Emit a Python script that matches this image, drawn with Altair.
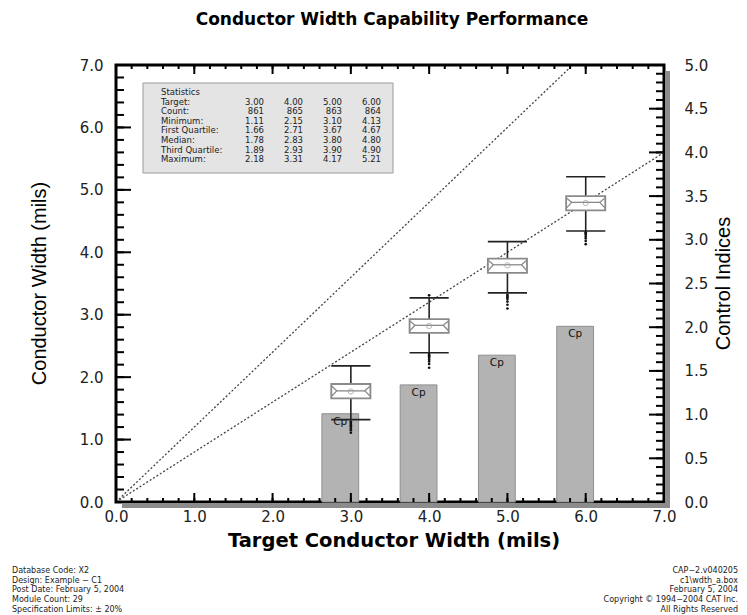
import altair as alt
import pandas as pd

# ---- measurements per target width ----
targets = [3.0, 4.0, 5.0, 6.0]
counts = [861, 865, 863, 864]
minimums = [1.11, 2.15, 3.10, 4.13]
first_quartiles = [1.66, 2.71, 3.67, 4.67]
medians = [1.78, 2.83, 3.80, 4.80]
third_quartiles = [1.89, 2.93, 3.90, 4.90]
maximums = [2.18, 3.31, 4.17, 5.21]
lower_whiskers = [1.32, 2.39, 3.35, 4.34]
upper_whiskers = [2.18, 3.27, 4.17, 5.21]
means = [1.77, 2.82, 3.79, 4.79]
outliers = [
    [1.11, 1.15, 1.18, 1.21, 1.23, 1.25, 1.27, 1.29],
    [2.15, 2.21, 2.25, 2.28, 2.31, 2.33, 2.35, 2.37, 3.31],
    [3.10, 3.16, 3.21, 3.25, 3.28, 3.30, 3.32],
    [4.13, 4.18, 4.22, 4.25, 4.28, 4.30, 4.32],
]
cp_values = [1.01, 1.34, 1.68, 2.01]
spec_limit = 0.20

x_major = [0, 1, 2, 3, 4, 5, 6, 7]
y_major = [0, 1, 2, 3, 4, 5, 6, 7]
right_major = [0.0, 0.5, 1.0, 1.5, 2.0, 2.5, 3.0, 3.5, 4.0, 4.5, 5.0]

stat_labels = ["Target:", "Count:", "Minimum:", "First Quartile:", "Median:",
               "Third Quartile:", "Maximum:"]

footer_left = ["Database Code: X2", "Design: Example \u2212 C1",
               "Post Date: February  5, 2004", "Module Count: 29",
               "Specification Limits: \u00b1 20%"]
footer_right = ["CAP\u22122.v040205", "c1\\wdth_a.box", "February 5, 2004",
                "Copyright \u00a9 1994\u22122004 CAT Inc.", "All Rights Reserved"]

# ---- layout ----
W, H = 548, 437
HFONT = "DejaVu Sans"
VFONT = "Liberation Sans"
BOX_HALF = 0.25

xs = alt.Scale(domain=[0, 7], nice=False, zero=False)
ys = alt.Scale(domain=[0, 7], nice=False, zero=False)
yr = alt.Scale(domain=[0, 5], nice=False, zero=False)

x_axis = alt.Axis(values=x_major, format=".1f", ticks=False, domain=False,
                  grid=False, labelPadding=7, labelFont=HFONT, labelFontSize=15,
                  labelColor="#222", labelFlush=False, labelOverlap=False, title=None)
left_axis = alt.Axis(orient="left", values=y_major, format=".1f", ticks=False,
                     domain=False, grid=False, labelPadding=13, labelFont=HFONT,
                     labelFontSize=15, labelColor="#222", labelFlush=False, title=None)
right_axis = alt.Axis(orient="right", values=right_major, format=".1f", ticks=False,
                      domain=False, grid=False, labelPadding=20, labelFont=HFONT,
                      labelFontSize=15, labelColor="#222", labelFlush=False, title=None)


def X(field):
    return alt.X(field, type="quantitative", scale=xs, axis=x_axis)


def YL(field):
    return alt.Y(field, type="quantitative", scale=ys, axis=None)


one = pd.DataFrame({"k": [1]})

# ---- tables ----
box = pd.DataFrame({
    "t": targets, "q1": first_quartiles, "med": medians, "q3": third_quartiles,
    "lw": lower_whiskers, "uw": upper_whiskers, "mean": means, "cp": cp_values,
})
box["lo"] = box["t"] - BOX_HALF
box["hi"] = box["t"] + BOX_HALF
box["bar_lo"] = box["t"] - 0.37
box["bar_hi"] = box["t"] + 0.10
box["bar_mid"] = (box["bar_lo"] + box["bar_hi"]) / 2

caps = pd.concat([
    box[["t", "lo", "hi"]].assign(v=box["lw"]),
    box[["t", "lo", "hi"]].assign(v=box["uw"]),
])

out_rows = [{"t": t, "v": v} for t, vals in zip(targets, outliers) for v in vals]
out_df = pd.DataFrame(out_rows)

# notch outline: converging strokes at each side plus the median line
notch_rows = []
inset = 0.07
for i, r in box.iterrows():
    up = r["med"] + (r["q3"] - r["med"]) * 0.75
    dn = r["med"] - (r["med"] - r["q1"]) * 0.75
    pts = {
        "L": [(r["lo"], up), (r["lo"] + inset, r["med"]), (r["lo"], dn)],
        "R": [(r["hi"], up), (r["hi"] - inset, r["med"]), (r["hi"], dn)],
        "M": [(r["lo"] + inset, r["med"]), (r["hi"] - inset, r["med"])],
    }
    for side, plist in pts.items():
        for j, (px, py) in enumerate(plist):
            notch_rows.append({"g": f"{i}{side}", "o": j, "x": px, "y": py})
notch_df = pd.DataFrame(notch_rows)

spec_rows = []
for ratio in (1 - spec_limit, 1 + spec_limit):
    x_end = min(7.0, 7.0 / ratio)
    spec_rows += [{"r": ratio, "x": 0.0, "y": 0.0},
                  {"r": ratio, "x": x_end, "y": ratio * x_end}]
spec_df = pd.DataFrame(spec_rows)

minor_x = pd.DataFrame({"v": [i * 0.2 for i in range(36)]})
major_x = pd.DataFrame({"v": x_major})
minor_y = pd.DataFrame({"v": [i * 0.2 for i in range(36)]})
major_y = pd.DataFrame({"v": y_major})
minor_r = pd.DataFrame({"v": [i * 0.1 for i in range(51)]})
major_r = pd.DataFrame({"v": right_major})

# ---- layers ----
shadow_right = alt.Chart(one).mark_rect(color="#8c8c8c").encode(
    x=alt.value(W + 1), x2=alt.value(W + 6), y=alt.value(6), y2=alt.value(H + 6))
shadow_bottom = alt.Chart(one).mark_rect(color="#8c8c8c").encode(
    x=alt.value(6), x2=alt.value(W + 6), y=alt.value(H + 1), y2=alt.value(H + 6))

bars = alt.Chart(box).mark_rect(fill="#b3b3b3", stroke="#8f8f8f", strokeWidth=1).encode(
    x=X("bar_lo"), x2="bar_hi",
    y=alt.Y("cp:Q", scale=yr, axis=right_axis), y2=alt.value(H))

cp_text = alt.Chart(box).mark_text(text="Cp", font=HFONT, fontSize=10.5, color="#111",
                                   baseline="top", dy=3).encode(
    x=X("bar_mid"), y=alt.Y("cp:Q", scale=yr, axis=None))

spec_lines = alt.Chart(spec_df).mark_line(color="#444", strokeWidth=1.3,
                                          strokeDash=[2, 2], clip=True).encode(
    x=X("x"), y=YL("y"), detail="r:N")

stats_box = alt.Chart(one).mark_rect(fill="#e4e4e4", stroke="#9a9a9a", strokeWidth=1).encode(
    x=alt.value(27), x2=alt.value(277), y=alt.value(18), y2=alt.value(108))

STAT_TOP = 23
LINE_H = 9.6
stat_label_text = alt.Chart(one).mark_text(
    text="\n".join(["Statistics"] + stat_labels), lineBreak="\n", lineHeight=LINE_H,
    align="left", baseline="top", font=HFONT, fontSize=8.5, color="#222").encode(
    x=alt.value(45), y=alt.value(STAT_TOP))

stat_cols = []
for c in range(4):
    col_vals = ["", f"{targets[c]:.2f}", f"{counts[c]}", f"{minimums[c]:.2f}",
                f"{first_quartiles[c]:.2f}", f"{medians[c]:.2f}",
                f"{third_quartiles[c]:.2f}", f"{maximums[c]:.2f}"]
    stat_cols.append(alt.Chart(one).mark_text(
        text="\n".join(col_vals), lineBreak="\n", lineHeight=LINE_H,
        align="right", baseline="top", font=HFONT, fontSize=8.5, color="#222").encode(
        x=alt.value(148 + 39 * c), y=alt.value(STAT_TOP)))


def tick_rules(df, side, length):
    base = alt.Chart(df).mark_rule(color="black", strokeWidth=2)
    if side == "bottom":
        return base.encode(x=X("v"), y=alt.value(H), y2=alt.value(H - length))
    if side == "top":
        return base.encode(x=X("v"), y=alt.value(0), y2=alt.value(length))
    if side == "left":
        return base.encode(y=YL("v"), x=alt.value(0), x2=alt.value(length))
    return base.encode(y=alt.Y("v:Q", scale=yr, axis=None),
                       x=alt.value(W), x2=alt.value(W - length))


ticks = [
    tick_rules(minor_x, "bottom", 4), tick_rules(major_x, "bottom", 9),
    tick_rules(minor_x, "top", 4), tick_rules(major_x, "top", 9),
    tick_rules(minor_y, "left", 8), tick_rules(major_y, "left", 15),
    tick_rules(minor_r, "right", 8), tick_rules(major_r, "right", 15),
]

whiskers = alt.Chart(box).mark_rule(color="#222", strokeWidth=1.6).encode(
    x=X("t"), y=YL("lw"), y2="uw")
cap_rules = alt.Chart(caps).mark_rule(color="#222", strokeWidth=1.6).encode(
    x=X("lo"), x2="hi", y=YL("v"))
boxes = alt.Chart(box).mark_rect(fill="white", stroke="#8a8a8a", strokeWidth=1.8).encode(
    x=X("lo"), x2="hi", y=alt.Y("q1:Q", scale=ys, axis=left_axis), y2="q3")
notches = alt.Chart(notch_df).mark_line(color="#8a8a8a", strokeWidth=1.3).encode(
    x=X("x"), y=YL("y"), detail="g:N", order="o:Q")
mean_pts = alt.Chart(box).mark_point(shape="circle", size=28, color="#9a9a9a",
                                     strokeWidth=1, filled=False).encode(
    x=X("t"), y=YL("mean"))
out_pts = alt.Chart(out_df).mark_point(shape="circle", size=7, color="#111",
                                       filled=True, opacity=1).encode(
    x=X("t"), y=YL("v"))

# ---- titles and notes ----
title = alt.Chart(one).mark_text(
    text="Conductor Width Capability Performance", font=HFONT, fontSize=17,
    fontWeight="bold", color="black").encode(x=alt.value(W / 2 + 2), y=alt.value(-45))
x_title = alt.Chart(one).mark_text(
    text="Target Conductor Width (mils)", font=HFONT, fontSize=19.5,
    fontWeight="bold", color="black", baseline="middle").encode(
    x=alt.value(W / 2 + 4), y=alt.value(476))
y_title = alt.Chart(one).mark_text(
    text="Conductor Width (mils)", font=VFONT, fontSize=20, angle=270,
    color="black").encode(x=alt.value(-76), y=alt.value(H / 2))
r_title = alt.Chart(one).mark_text(
    text="Control Indices", font=VFONT, fontSize=20, angle=270,
    color="black").encode(x=alt.value(W + 60), y=alt.value(H / 2))

notes_left = alt.Chart(one).mark_text(
    text="\n".join(footer_left), lineBreak="\n", lineHeight=9.7, align="left",
    baseline="top", font=HFONT, fontSize=8, color="#222").encode(
    x=alt.value(-104), y=alt.value(502))
notes_right = alt.Chart(one).mark_text(
    text="\n".join(footer_right), lineBreak="\n", lineHeight=9.7, align="right",
    baseline="top", font=HFONT, fontSize=8, color="#222").encode(
    x=alt.value(622), y=alt.value(502))

layers = [shadow_right, shadow_bottom, bars, cp_text, spec_lines, stats_box,
          stat_label_text, *stat_cols, *ticks, whiskers, cap_rules, boxes,
          notches, mean_pts, out_pts, title, x_title, y_title, r_title,
          notes_left, notes_right]

chart = alt.layer(*layers).resolve_scale(y="independent").properties(
    width=W, height=H,
    autosize=alt.AutoSizeParams(type="none"),
    padding={"left": 116, "top": 65, "right": 83, "bottom": 113},
    background="white",
).configure_view(stroke="black", strokeWidth=3)

chart.save("out.html", embed_options={"renderer": "svg", "actions": False})
